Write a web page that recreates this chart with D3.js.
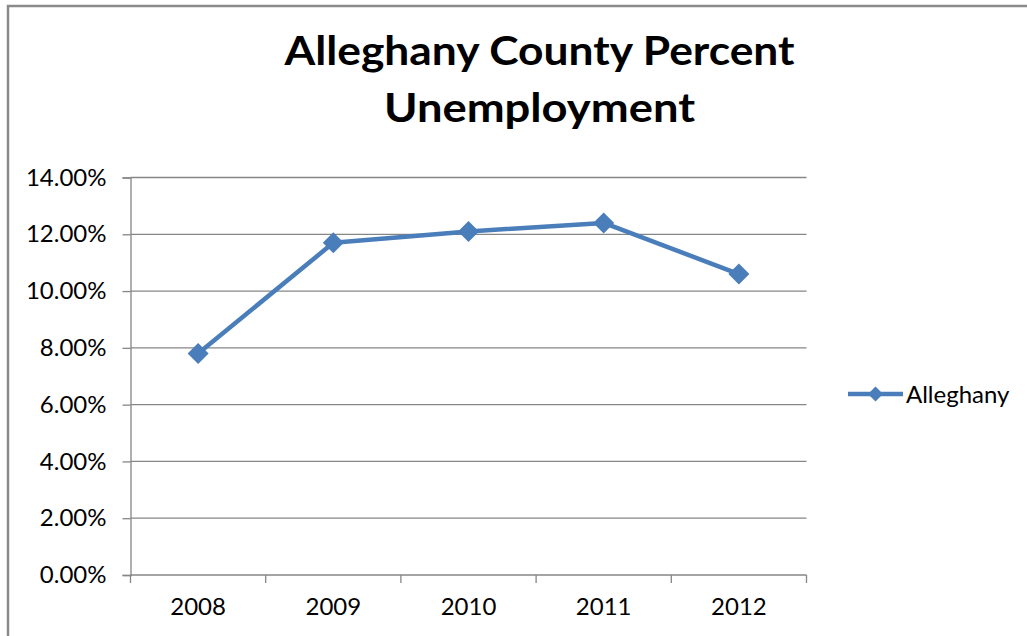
<!DOCTYPE html>
<html>
<head>
<meta charset="utf-8">
<script src="https://cdn.jsdelivr.net/npm/d3@7"></script>
<style>
  html, body { margin: 0; padding: 0; background: #fff; }
  svg { display: block; }
  text { font-family: Lato, "Open Sans", sans-serif; fill: #000; }
</style>
</head>
<body>
<svg id="chart" width="1027" height="636"></svg>
<script>
// Annual unemployment rate, Alleghany County
const years = ["2008", "2009", "2010", "2011", "2012"];
const alleghany = [7.8, 11.7, 12.1, 12.4, 10.6];
const yTicks = [0, 2, 4, 6, 8, 10, 12, 14];
const seriesName = "Alleghany";
const titleLines = ["Alleghany County Percent", "Unemployment"];

const W = 1027, H = 636;
const plot = { left: 130.5, right: 806.5, top: 177.5, bottom: 575 };
const gridColor = "#868686";
const lineColor = "#4A7EBB";
const labelSize = 24;

const svg = d3.select("#chart");

// chart frame (runs past the right and bottom edges)
svg.append("rect")
  .attr("x", 8).attr("y", 6)
  .attr("width", W + 20).attr("height", H + 20)
  .attr("fill", "#fff")
  .attr("stroke", "#8a8a8a").attr("stroke-width", 2.5);

// title
const titleG = svg.append("g");
const titleBaselines = [65, 122];
const titleWidths = [510, 311];
titleLines.forEach((t, i) => {
  titleG.append("text")
    .attr("x", 539.5).attr("y", titleBaselines[i])
    .attr("text-anchor", "middle")
    .attr("font-size", 41).attr("font-weight", 700)
    .attr("textLength", titleWidths[i])
    .attr("lengthAdjust", "spacingAndGlyphs")
    .text(t);
});

const x = d3.scaleBand().domain(years).range([plot.left, plot.right]);
const y = d3.scaleLinear().domain([0, 14]).range([plot.bottom, plot.top]);

// horizontal gridlines
svg.append("g").selectAll("line").data(yTicks.filter(d => d > 0)).join("line")
  .attr("x1", plot.left).attr("x2", plot.right)
  .attr("y1", d => y(d)).attr("y2", d => y(d))
  .attr("stroke", gridColor).attr("stroke-width", 1.3);

// y axis
const yAxis = svg.append("g")
  .attr("transform", `translate(${plot.left},0)`)
  .call(d3.axisLeft(y).tickValues(yTicks).tickSize(8).tickPadding(16)
    .tickFormat(d => d.toFixed(2) + "%"));
yAxis.select(".domain").attr("stroke", gridColor).attr("stroke-width", 1.3);
yAxis.selectAll(".tick line").attr("stroke", gridColor).attr("stroke-width", 1.3);
yAxis.selectAll(".tick text")
  .attr("font-size", labelSize).attr("fill", "#000")
  .style("font-family", "Lato, 'Open Sans', sans-serif");

// x axis with tick marks between categories
const xAxis = svg.append("g")
  .attr("transform", `translate(0,${plot.bottom})`)
  .call(d3.axisBottom(x).tickSize(0).tickPadding(23));
xAxis.select(".domain").remove();
xAxis.selectAll(".tick text")
  .attr("font-size", labelSize).attr("fill", "#000")
  .style("font-family", "Lato, 'Open Sans', sans-serif");
xAxis.append("line")
  .attr("x1", plot.left).attr("x2", plot.right)
  .attr("y1", 0).attr("y2", 0)
  .attr("stroke", gridColor).attr("stroke-width", 1.3);
const bounds = years.map(d => x(d)).concat([x(years[years.length - 1]) + x.bandwidth()]);
xAxis.selectAll("line.sep").data(bounds).join("line")
  .attr("class", "sep")
  .attr("x1", d => d).attr("x2", d => d)
  .attr("y1", 0).attr("y2", 8)
  .attr("stroke", gridColor).attr("stroke-width", 1.3);

// series line and diamond markers
const cx = d => x(d) + x.bandwidth() / 2;
const pts = years.map((yr, i) => [cx(yr), y(alleghany[i])]);
svg.append("path")
  .attr("d", d3.line()(pts))
  .attr("fill", "none").attr("stroke", lineColor)
  .attr("stroke-width", 4.5).attr("stroke-linejoin", "round");

const diamond = r => `M0,${-r}L${r},0L0,${r}L${-r},0Z`;
svg.append("g").selectAll("path").data(pts).join("path")
  .attr("transform", d => `translate(${d[0]},${d[1]})`)
  .attr("d", diamond(10.5))
  .attr("fill", lineColor);

// legend
const lg = svg.append("g").attr("transform", "translate(848,394)");
lg.append("line").attr("x1", 0).attr("x2", 55)
  .attr("stroke", lineColor).attr("stroke-width", 4.5);
lg.append("path").attr("transform", "translate(27.5,0)")
  .attr("d", diamond(7.5)).attr("fill", lineColor);
lg.append("text").attr("x", 58).attr("y", 9)
  .attr("font-size", labelSize).text(seriesName);
</script>
</body>
</html>
